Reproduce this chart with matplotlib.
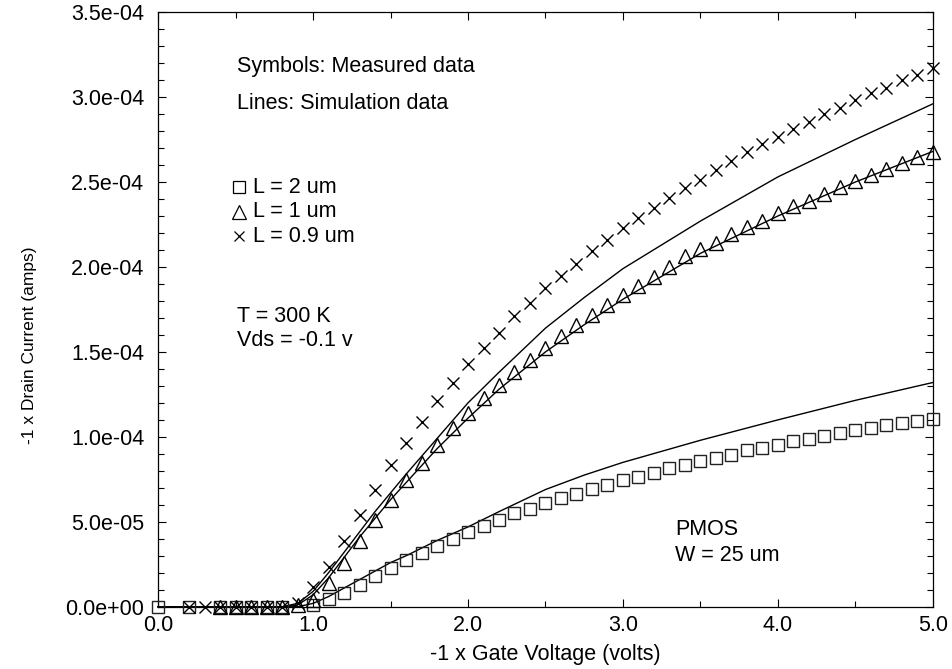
import numpy as np
import matplotlib
matplotlib.use("Agg")
import matplotlib.pyplot as plt
from matplotlib.ticker import MultipleLocator, FormatStrFormatter

plt.rcParams["font.family"] = ["Liberation Sans", "DejaVu Sans"]

# measured data (symbols), gate voltage in volts, current in amps
vg_sq = [0.0, 0.2, 0.4, 0.5, 0.6, 0.7, 0.8, 1.0, 1.1, 1.2, 1.3, 1.4, 1.5, 1.6, 1.7,
         1.8, 1.9, 2.0, 2.1, 2.2, 2.3, 2.4, 2.5, 2.6, 2.7, 2.8, 2.9, 3.0, 3.1, 3.2,
         3.3, 3.4, 3.5, 3.6, 3.7, 3.8, 3.9, 4.0, 4.1, 4.2, 4.3, 4.4, 4.5, 4.6, 4.7,
         4.8, 4.9, 5.0]
id_sq = [0, 0, 0, 0, 0, 0, 0, 1.0e-6, 4.5e-6, 8.4e-6, 1.31e-5, 1.82e-5, 2.31e-5,
         2.74e-5, 3.17e-5, 3.58e-5, 3.97e-5, 4.38e-5, 4.74e-5, 5.08e-5, 5.49e-5,
         5.78e-5, 6.08e-5, 6.38e-5, 6.63e-5, 6.91e-5, 7.17e-5, 7.47e-5, 7.66e-5,
         7.90e-5, 8.16e-5, 8.36e-5, 8.55e-5, 8.75e-5, 8.95e-5, 9.21e-5, 9.35e-5,
         9.54e-5, 9.74e-5, 9.88e-5, 1.004e-4, 1.024e-4, 1.040e-4, 1.053e-4,
         1.067e-4, 1.083e-4, 1.093e-4, 1.107e-4]

vg_tri = [0.4, 0.5, 0.6, 0.7, 0.8, 0.9, 1.0, 1.1, 1.2, 1.3, 1.4, 1.5, 1.6, 1.7, 1.8,
          1.9, 2.0, 2.1, 2.2, 2.3, 2.4, 2.5, 2.6, 2.7, 2.8, 2.9, 3.0, 3.1, 3.2, 3.3,
          3.4, 3.5, 3.6, 3.7, 3.8, 3.9, 4.0, 4.1, 4.2, 4.3, 4.4, 4.5, 4.6, 4.7, 4.8,
          4.9, 5.0]
id_tri = [0, 0, 0, 0, 0, 1.0e-6, 4.0e-6, 1.39e-5, 2.56e-5, 3.89e-5, 5.10e-5,
          6.27e-5, 7.44e-5, 8.46e-5, 9.55e-5, 1.053e-4, 1.139e-4, 1.226e-4,
          1.306e-4, 1.382e-4, 1.454e-4, 1.524e-4, 1.591e-4, 1.659e-4, 1.720e-4,
          1.776e-4, 1.835e-4, 1.888e-4, 1.942e-4, 2.000e-4, 2.063e-4, 2.103e-4,
          2.141e-4, 2.191e-4, 2.233e-4, 2.273e-4, 2.317e-4, 2.357e-4, 2.386e-4,
          2.429e-4, 2.468e-4, 2.507e-4, 2.542e-4, 2.578e-4, 2.610e-4, 2.644e-4,
          2.675e-4]

vg_x = [0.2, 0.3, 0.4, 0.5, 0.6, 0.7, 0.8, 0.9, 1.0, 1.1, 1.2, 1.3, 1.4, 1.5, 1.6,
        1.7, 1.8, 1.9, 2.0, 2.1, 2.2, 2.3, 2.4, 2.5, 2.6, 2.7, 2.8, 2.9, 3.0, 3.1,
        3.2, 3.3, 3.4, 3.5, 3.6, 3.7, 3.8, 3.9, 4.0, 4.1, 4.2, 4.3, 4.4, 4.5, 4.6,
        4.7, 4.8, 4.9, 5.0]
id_x = [0, 0, 0, 0, 0, 0, 0, 2.0e-6, 1.17e-5, 2.34e-5, 3.87e-5, 5.39e-5, 6.86e-5,
        8.32e-5, 9.61e-5, 1.090e-4, 1.213e-4, 1.319e-4, 1.430e-4, 1.525e-4,
        1.613e-4, 1.710e-4, 1.789e-4, 1.874e-4, 1.946e-4, 2.018e-4, 2.093e-4,
        2.161e-4, 2.229e-4, 2.288e-4, 2.347e-4, 2.405e-4, 2.464e-4, 2.513e-4,
        2.572e-4, 2.624e-4, 2.675e-4, 2.722e-4, 2.767e-4, 2.812e-4, 2.855e-4,
        2.898e-4, 2.937e-4, 2.982e-4, 3.021e-4, 3.054e-4, 3.099e-4, 3.132e-4,
        3.171e-4]

# simulation data (lines)
vg_sim = [0.0, 0.5, 0.8, 0.9, 1.0, 1.1, 1.2, 1.3, 1.4, 1.5, 1.6, 1.8, 2.0, 2.2,
          2.5, 2.75, 3.0, 3.5, 4.0, 4.5, 5.0]
sim_l2 = [0, 0, 0, 0, 2.0e-6, 6.0e-6, 1.1e-5, 1.6e-5, 2.1e-5, 2.6e-5, 3.0e-5,
          3.9e-5, 4.7e-5, 5.6e-5, 6.9e-5, 7.75e-5, 8.5e-5, 9.8e-5, 1.10e-4,
          1.215e-4, 1.32e-4]
sim_l1 = [0, 0, 0, 1.0e-6, 7.0e-6, 1.7e-5, 2.9e-5, 4.1e-5, 5.2e-5, 6.3e-5, 7.3e-5,
          9.3e-5, 1.11e-4, 1.28e-4, 1.50e-4, 1.66e-4, 1.81e-4, 2.08e-4, 2.30e-4,
          2.50e-4, 2.68e-4]
sim_l09 = [0, 0, 0, 2.0e-6, 9.0e-6, 2.0e-5, 3.2e-5, 4.4e-5, 5.6e-5, 6.7e-5, 7.8e-5,
           9.9e-5, 1.20e-4, 1.38e-4, 1.64e-4, 1.82e-4, 1.99e-4, 2.27e-4, 2.53e-4,
           2.75e-4, 2.96e-4]

FS = 15.5      # ticks, x label and the notes
YLAB_FS = 12.5

fig = plt.figure(figsize=(9.52, 6.69), dpi=100)
ax = fig.add_axes([0.166, 0.093, 0.814, 0.889])

for ys in (sim_l2, sim_l1, sim_l09):
    ax.plot(vg_sim, ys, color="black", lw=1.0, clip_on=False, zorder=3)

ax.plot(vg_sq, id_sq, ls="none", marker="s", ms=9, mfc="none", mec="#222222",
        mew=1.0, clip_on=False, zorder=4)
ax.plot(vg_tri, id_tri, ls="none", marker="^", ms=10, mfc="none", mec="black",
        mew=1.0, clip_on=False, zorder=4)
ax.plot(vg_x, id_x, ls="none", marker="x", ms=8, mec="black", mew=1.0,
        clip_on=False, zorder=4)

ax.set_xlim(0, 5)
ax.set_ylim(0, 3.5e-4)
ax.xaxis.set_major_locator(MultipleLocator(1.0))
ax.xaxis.set_minor_locator(MultipleLocator(0.5))
ax.yaxis.set_major_locator(MultipleLocator(5e-5))
ax.yaxis.set_minor_locator(MultipleLocator(1e-5))
ax.xaxis.set_major_formatter(FormatStrFormatter("%.1f"))
ax.yaxis.set_major_formatter(FormatStrFormatter("%.1e"))
ax.tick_params(which="both", direction="in", top=True, right=True,
               labelsize=FS, width=0.8)
ax.tick_params(which="major", length=6)
ax.tick_params(which="minor", length=4)
ax.tick_params(axis="y", pad=10)
ax.tick_params(axis="x", pad=6)
for s in ax.spines.values():
    s.set_linewidth(0.9)

ax.set_xlabel("-1 x Gate Voltage (volts)", fontsize=FS)
ax.xaxis.set_label_coords(0.5, -0.062)
ax.set_ylabel("-1 x Drain Current (amps)", fontsize=YLAB_FS)
ax.yaxis.set_label_coords(-0.156, 0.44)

# annotations inside the plot
ax.text(0.51, 3.18e-4, "Symbols: Measured data", fontsize=FS, va="center")
ax.text(0.51, 2.96e-4, "Lines: Simulation data", fontsize=FS, va="center")
keys = [("s", "L = 2 um", 2.47e-4, 8.5), ("^", "L = 1 um", 2.325e-4, 10),
        ("x", "L = 0.9 um", 2.18e-4, 7.5)]
for mk, lab, yv, ms in keys:
    ax.plot([0.523], [yv], marker=mk, ms=ms, mfc="none", mec="black", mew=0.9,
            ls="none")
    ax.text(0.61, yv, lab, fontsize=FS, va="center")
ax.text(0.51, 1.71e-4, "T = 300 K", fontsize=FS, va="center")
ax.text(0.51, 1.565e-4, "Vds = -0.1 v", fontsize=FS, va="center")
ax.text(3.335, 4.53e-5, "PMOS", fontsize=FS, va="center")
ax.text(3.335, 3.0e-5, "W = 25 um", fontsize=FS, va="center")

fig.savefig("out.png", dpi=100)
